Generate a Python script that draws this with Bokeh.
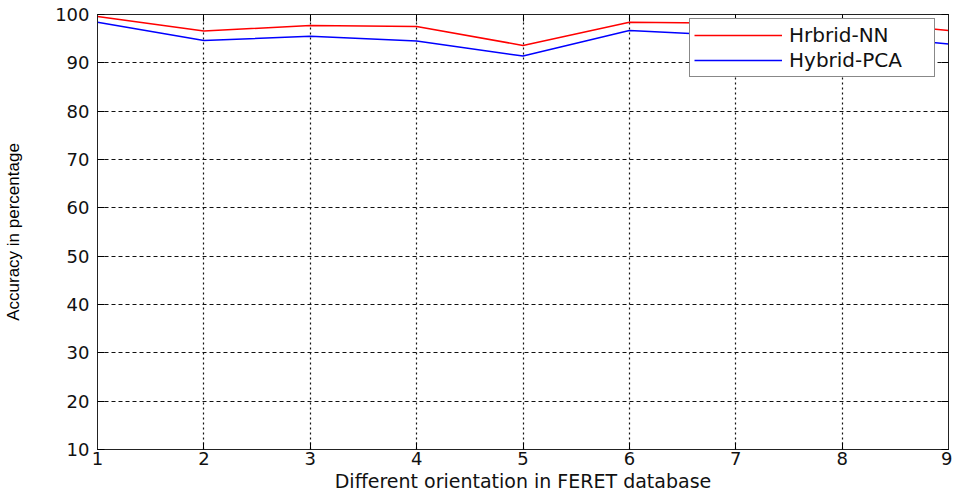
from bokeh.plotting import figure
from bokeh.models import Range1d, LinearAxis, FixedTicker, Legend, LegendItem
from bokeh.embed import file_html
from bokeh.resources import INLINE

orientation = [1, 2, 3, 4, 5, 6, 7, 8, 9]
hybrid_nn = [99.6, 96.6, 97.7, 97.5, 93.6, 98.4, 98.2, 98.8, 96.7]
hybrid_pca = [98.4, 94.6, 95.5, 94.5, 91.4, 96.7, 95.6, 96.0, 93.9]
y_ticks = [10, 20, 30, 40, 50, 60, 70, 80, 90, 100]
x_ticks = [1, 2, 3, 4, 5, 6, 7, 8, 9]

FONT = "Liberation Sans"
WFONT = "DejaVu Sans"
TXT = "#111111"

p = figure(width=952, height=496, output_backend="svg", toolbar_location=None,
           x_range=Range1d(1, 9), y_range=Range1d(10, 100),
           min_border_left=97, min_border_right=4, min_border_top=14, min_border_bottom=47)

p.background_fill_color = "white"
p.border_fill_color = "white"
p.outline_line_color = "#222222"
p.outline_line_width = 1

r1 = p.line(orientation, hybrid_nn, line_color="#ff0000", line_width=1.5)
r2 = p.line(orientation, hybrid_pca, line_color="#0000ff", line_width=1.5)

for ax in p.xaxis:
    ax.ticker = FixedTicker(ticks=x_ticks)
    ax.axis_label = "Different orientation in FERET database"
    ax.axis_label_text_font = WFONT
    ax.axis_label_text_font_style = "normal"
    ax.axis_label_text_font_size = "19px"
    ax.axis_label_text_color = TXT
    ax.axis_label_standoff = 2
    ax.major_label_text_font = WFONT
    ax.major_label_text_font_size = "18px"
    ax.major_label_text_color = TXT
    ax.major_label_standoff = 2
    ax.major_tick_in = 7
    ax.major_tick_out = 0
    ax.minor_tick_line_color = None
    ax.axis_line_color = "#222222"

for ax in p.yaxis:
    ax.ticker = FixedTicker(ticks=y_ticks)
    ax.axis_label = "Accuracy in percentage"
    ax.axis_label_text_font = FONT
    ax.axis_label_text_font_style = "normal"
    ax.axis_label_text_font_size = "17px"
    ax.axis_label_text_color = "#000000"
    ax.axis_label_standoff = 29
    ax.major_label_text_font = WFONT
    ax.major_label_text_font_size = "18px"
    ax.major_label_text_color = TXT
    ax.major_label_standoff = 8
    ax.major_tick_in = 7
    ax.major_tick_out = 0
    ax.minor_tick_line_color = None
    ax.axis_line_color = "#222222"

# tick marks on the top and right edges (MATLAB style box), no labels
top_ax = LinearAxis(ticker=FixedTicker(ticks=x_ticks), major_label_text_font_size="0px",
                    major_label_text_color=None,
                    major_label_standoff=0, major_tick_in=7, major_tick_out=0,
                    minor_tick_line_color=None, axis_line_color="#222222")
right_ax = LinearAxis(ticker=FixedTicker(ticks=y_ticks), major_label_text_font_size="0px",
                      major_label_text_color=None,
                      major_label_standoff=0, major_tick_in=7, major_tick_out=0,
                      minor_tick_line_color=None, axis_line_color="#222222")
p.add_layout(top_ax, "above")
p.add_layout(right_ax, "right")

p.xgrid.ticker = FixedTicker(ticks=x_ticks)
p.ygrid.ticker = FixedTicker(ticks=y_ticks)
p.xgrid.grid_line_color = "#111111"
p.xgrid.grid_line_dash = "2 3"
p.xgrid.grid_line_width = 1.2
p.ygrid.grid_line_color = "#111111"
p.ygrid.grid_line_dash = "4 3"
p.ygrid.grid_line_width = 1

legend = Legend(items=[LegendItem(label="Hrbrid-NN", renderers=[r1]),
                       LegendItem(label="Hybrid-PCA", renderers=[r2])],
                location=(592, 372))
legend.label_text_font = WFONT
legend.label_text_font_size = "20px"
legend.label_text_color = TXT
legend.glyph_width = 88
legend.glyph_height = 20
legend.label_height = 20
legend.label_width = 141
legend.label_standoff = 7
legend.spacing = 1
legend.padding = 4
legend.margin = 0
legend.border_line_color = "#111111"
legend.border_line_width = 1.5
legend.background_fill_alpha = 1
p.add_layout(legend)

open("out.html", "w").write(file_html(p, INLINE))
